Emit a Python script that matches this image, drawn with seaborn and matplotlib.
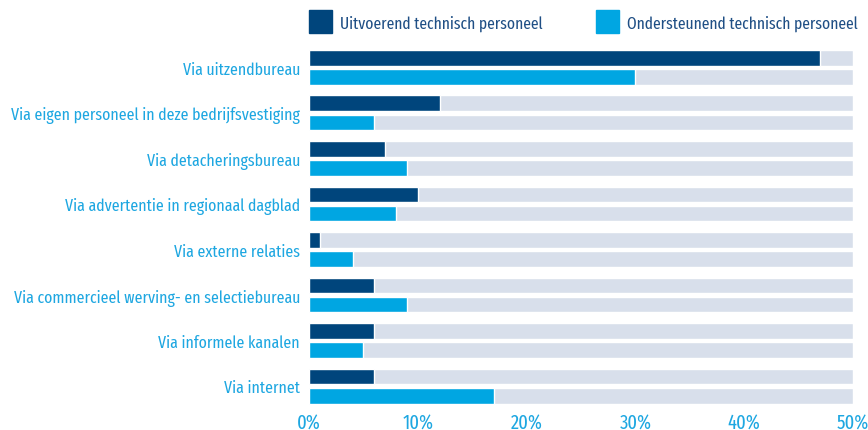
import pandas as pd
import matplotlib.pyplot as plt
import seaborn as sns
from matplotlib.patches import Rectangle

categories = [
    'Via uitzendbureau',
    'Via eigen personeel in deze bedrijfsvestiging',
    'Via detacheringsbureau',
    'Via advertentie in regionaal dagblad',
    'Via externe relaties',
    'Via commercieel werving- en selectiebureau',
    'Via informele kanalen',
    'Via internet',
]
series = ['Uitvoerend technisch personeel', 'Ondersteunend technisch personeel']
uitvoerend = [47, 12, 7, 10, 1, 6, 6, 6]
ondersteunend = [30, 6, 9, 8, 4, 9, 5, 17]
x_ticks = [0, 10, 20, 30, 40, 50]
x_max = 50

DARK = '#00457c'
LIGHT = '#00a6e2'
TRACK = '#d8dfeb'
LABEL = '#1ea7e1'
LEGEND_TXT = '#1f4f85'

sns.set_style('white')
plt.rcParams['font.family'] = ['Fira Sans Extra Condensed', 'Fira Sans Condensed', 'DejaVu Sans']

df = pd.DataFrame({
    'kanaal': categories * 2,
    'groep': [series[0]] * len(categories) + [series[1]] * len(categories),
    'waarde': uitvoerend + ondersteunend,
})
df['achtergrond'] = x_max

fig = plt.figure(figsize=(8.68, 4.31), dpi=100)
ax = fig.add_axes([309 / 868, 21 / 431, 544 / 868, 365 / 431])


def fit_size(text, px):
    # font size at which text is about px pixels wide
    probe = fig.text(0, 0, text, fontsize=10)
    w = probe.get_window_extent(fig.canvas.get_renderer()).width
    probe.remove()
    return 10 * px / w


fs = fit_size(categories[1], 290)
fs_leg = fit_size(series[0], 203)
fs_tick = fit_size('50%', 32)

sns.barplot(data=df, y='kanaal', x='achtergrond', hue='groep', orient='h',
            palette=[TRACK, TRACK], width=0.84, gap=0.17, ax=ax,
            legend=False, errorbar=None, saturation=1)
sns.barplot(data=df, y='kanaal', x='waarde', hue='groep', orient='h',
            palette=[DARK, LIGHT], width=0.84, gap=0.17, ax=ax,
            legend=False, errorbar=None, saturation=1)

ax.set_xlim(0, x_max)
ax.set_ylim(7.505, -0.516)
ax.set_xticks(x_ticks)
ax.set_xticklabels([f'{t}%' for t in x_ticks], color=LABEL, fontsize=fs_tick)
ax.set_yticklabels(categories, color=LABEL, fontsize=fs)
ax.tick_params(axis='y', length=0, pad=6.5)
ax.tick_params(axis='x', length=0, pad=2)
ax.set_xlabel('')
ax.set_ylabel('')
sns.despine(ax=ax, left=True, bottom=True)

# legend
for col, name, x0 in [(DARK, series[0], 309), (LIGHT, series[1], 596)]:
    fig.add_artist(Rectangle((x0 / 868, 1 - 34 / 431), 23 / 868, 23 / 431,
                             transform=fig.transFigure, color=col))
    fig.text((x0 + 31) / 868, 1 - 24 / 431, name, color=LEGEND_TXT,
             fontsize=fs_leg, va='center', ha='left')

plt.savefig('out.png', dpi=100)
